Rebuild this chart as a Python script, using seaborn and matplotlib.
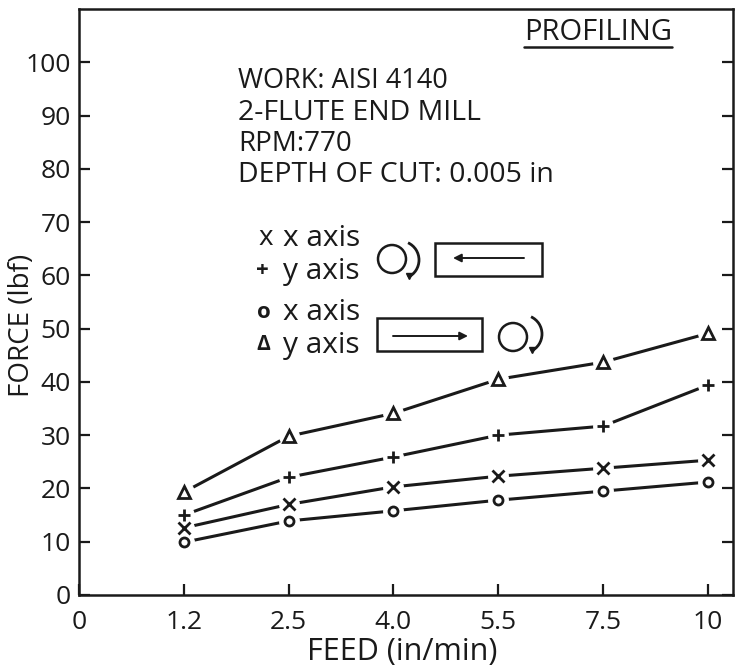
import matplotlib
matplotlib.use('Agg')
import matplotlib.pyplot as plt
from matplotlib.patches import Rectangle, Circle, FancyArrowPatch, Arc
import seaborn as sns
import pandas as pd

feed_labels = ['1.2', '2.5', '4.0', '5.5', '7.5', '10']
feed_pos = [1, 2, 3, 4, 5, 6]
y_ticks = [0, 10, 20, 30, 40, 50, 60, 70, 80, 90, 100]

tri_y = [19.3, 29.8, 34.1, 40.5, 43.7, 49.1]
plus_y = [15, 22.1, 25.9, 30, 31.7, 39.4]
cross_x = [12.6, 17, 20.3, 22.3, 23.8, 25.3]
circ_x = [9.9, 13.9, 15.8, 17.8, 19.5, 21.2]

series = [('tri', tri_y, '^'), ('plus', plus_y, '+'), ('cross', cross_x, 'x'), ('circ', circ_x, 'o')]

INK = '#1a1a1a'
L, R, T, B = 79, 733, 9, 595

sns.set_style('ticks')
plt.rcParams['font.family'] = ['Open Sans', 'DejaVu Sans']

fig = plt.figure(figsize=(7.37, 6.67), dpi=100)
ax = fig.add_axes([L/737, 1-B/667, (R-L)/737, (B-T)/667])

for name, vals, mark in series:
    df = pd.DataFrame({'feed': feed_pos, 'force': vals})
    sns.lineplot(data=df, x='feed', y='force', ax=ax, color=INK, lw=2.2)
    # white halo leaves the small gap between line and marker
    ax.plot(feed_pos, vals, ls='none', marker='o', mfc='white', mec='white', ms=14, zorder=4)
    size = {'o': 6.5, 'x': 8.5}.get(mark, 8)
    ax.plot(feed_pos, vals, ls='none', marker=mark, mfc='none', mec=INK, mew=2, ms=size, zorder=5)

ax.set_xlim(0, 6.24)
ax.set_ylim(0, 110)
ax.set_xticks([0] + feed_pos)
ax.set_xticklabels(['0'] + feed_labels)
ax.set_yticks(y_ticks)
ax.tick_params(axis='both', labelsize=19, length=8, width=1.6, color=INK, labelcolor=INK, direction='in')
ax.tick_params(axis='y', right=True, pad=6)
ax.tick_params(axis='x', pad=11)
ax.set_xlabel('FEED (in/min)', fontsize=22, color=INK)
ax.set_ylabel('FORCE (lbf)', fontsize=20, color=INK)

def px(x, y):
    return (x - L) / (R - L), (B - y) / (B - T)

ax.xaxis.set_label_coords(*px(402, 652))
ax.xaxis.label.set_va('center')
ax.yaxis.set_label_coords(*px(22, 325))
ax.yaxis.label.set_va('center')
for s in ax.spines.values():
    s.set_visible(True)
    s.set_linewidth(1.8)
    s.set_color(INK)

tr = ax.transAxes

def label(x, y, s, size=20, **kw):
    ax.text(*px(x, y), s, transform=tr, fontsize=size, va='center', ha='left', color=INK, **kw)

label(524, 33, 'PROFILING', 21)
ax.plot([px(524, 0)[0], px(672, 0)[0]], [px(0, 47)[1]] * 2, transform=tr, color=INK, lw=1.8)
label(238, 81, 'WORK: AISI 4140', 19.5)
label(238, 113, '2-FLUTE END MILL', 20.5)
label(238, 144, 'RPM:770', 20)
label(238, 175, 'DEPTH OF CUT: 0.005 in', 20.5)
label(258, 238, 'x', 20)
label(283, 238, 'x axis', 21.5)
label(256, 271, '+', 16, fontweight='bold')
label(283, 271, 'y axis', 21.5)
label(257, 313, 'o', 16, fontweight='bold')
label(283, 313, 'x axis', 21.5)
label(256, 345, 'Δ', 15, fontweight='bold')
label(283, 345, 'y axis', 21.5)

# workpiece boxes with feed arrows
for x0, y0, x1, y1 in [(435, 243, 542, 276), (377, 318, 482, 351)]:
    ax.add_patch(Rectangle(px(x0, y1), (x1-x0)/(R-L), (y1-y0)/(B-T), transform=tr, fill=False, ec=INK, lw=1.8))
for a, b in [((524, 258), (453, 258)), ((393, 336), (468, 336))]:
    ax.add_patch(FancyArrowPatch(px(*a), px(*b), transform=tr, arrowstyle='-|>', mutation_scale=12, color=INK, lw=1.4, shrinkA=0, shrinkB=0))

# cutter circles and rotation arcs, drawn in pixel coords of the figure
fig_ax = fig.add_axes([0, 0, 1, 1], facecolor='none')
fig_ax.set_xlim(0, 737)
fig_ax.set_ylim(667, 0)
fig_ax.axis('off')
for cx, cy, ax_x, ax_y in [(392, 259, 400, 260), (513, 337, 523, 334)]:
    fig_ax.add_patch(Circle((cx, cy), 14, fill=False, ec=INK, lw=1.8))
    fig_ax.add_patch(Arc((ax_x, ax_y), 38, 38, theta1=-65, theta2=65, ec=INK, lw=2))
    fig_ax.plot([ax_x + 9], [ax_y + 16], marker='v', color=INK, ms=5)

fig.savefig('out.png', dpi=100)
